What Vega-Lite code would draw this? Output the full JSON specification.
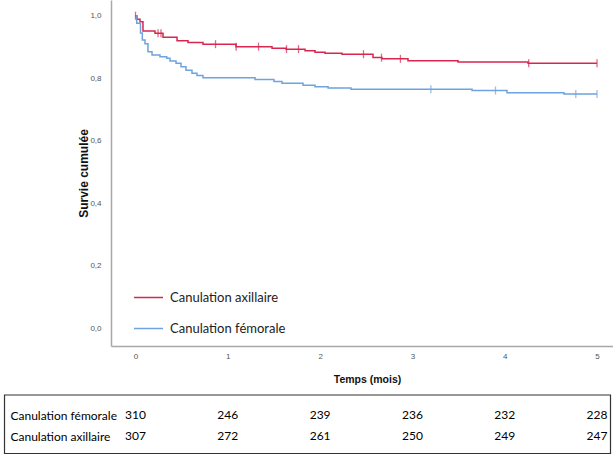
{
  "$schema": "https://vega.github.io/schema/vega-lite/v6.json",
  "autosize": "none",
  "padding": {"left": 111, "top": 0, "right": 0, "bottom": 110},
  "width": 502,
  "height": 346,
  "background": "white",
  "config": {"view": {"stroke": null}},
  "datasets": {
    "curve": [
      {"g": "Canulation axillaire", "t": 0, "s": 1.0},
      {"g": "Canulation axillaire", "t": 0.016, "s": 0.989},
      {"g": "Canulation axillaire", "t": 0.049, "s": 0.981},
      {"g": "Canulation axillaire", "t": 0.081, "s": 0.951},
      {"g": "Canulation axillaire", "t": 0.211, "s": 0.944},
      {"g": "Canulation axillaire", "t": 0.298, "s": 0.931},
      {"g": "Canulation axillaire", "t": 0.45, "s": 0.92},
      {"g": "Canulation axillaire", "t": 0.569, "s": 0.914},
      {"g": "Canulation axillaire", "t": 0.731, "s": 0.909},
      {"g": "Canulation axillaire", "t": 1.089, "s": 0.901},
      {"g": "Canulation axillaire", "t": 1.479, "s": 0.896},
      {"g": "Canulation axillaire", "t": 1.631, "s": 0.893},
      {"g": "Canulation axillaire", "t": 1.837, "s": 0.888},
      {"g": "Canulation axillaire", "t": 1.945, "s": 0.883},
      {"g": "Canulation axillaire", "t": 2.053, "s": 0.88},
      {"g": "Canulation axillaire", "t": 2.237, "s": 0.877},
      {"g": "Canulation axillaire", "t": 2.573, "s": 0.866},
      {"g": "Canulation axillaire", "t": 2.67, "s": 0.862},
      {"g": "Canulation axillaire", "t": 2.952, "s": 0.856},
      {"g": "Canulation axillaire", "t": 3.494, "s": 0.852},
      {"g": "Canulation axillaire", "t": 4.253, "s": 0.848},
      {"g": "Canulation axillaire", "t": 5.0, "s": 0.848},
      {"g": "Canulation fémorale", "t": 0, "s": 1.0},
      {"g": "Canulation fémorale", "t": 0.013, "s": 0.976},
      {"g": "Canulation fémorale", "t": 0.054, "s": 0.945},
      {"g": "Canulation fémorale", "t": 0.074, "s": 0.922},
      {"g": "Canulation fémorale", "t": 0.103, "s": 0.91},
      {"g": "Canulation fémorale", "t": 0.135, "s": 0.885},
      {"g": "Canulation fémorale", "t": 0.179, "s": 0.874},
      {"g": "Canulation fémorale", "t": 0.265, "s": 0.869},
      {"g": "Canulation fémorale", "t": 0.338, "s": 0.864},
      {"g": "Canulation fémorale", "t": 0.374, "s": 0.855},
      {"g": "Canulation fémorale", "t": 0.439, "s": 0.848},
      {"g": "Canulation fémorale", "t": 0.493, "s": 0.837},
      {"g": "Canulation fémorale", "t": 0.547, "s": 0.826},
      {"g": "Canulation fémorale", "t": 0.612, "s": 0.816},
      {"g": "Canulation fémorale", "t": 0.666, "s": 0.809},
      {"g": "Canulation fémorale", "t": 0.731, "s": 0.802},
      {"g": "Canulation fémorale", "t": 1.295, "s": 0.796},
      {"g": "Canulation fémorale", "t": 1.5, "s": 0.79},
      {"g": "Canulation fémorale", "t": 1.587, "s": 0.784},
      {"g": "Canulation fémorale", "t": 1.815, "s": 0.778},
      {"g": "Canulation fémorale", "t": 1.945, "s": 0.773},
      {"g": "Canulation fémorale", "t": 2.086, "s": 0.769},
      {"g": "Canulation fémorale", "t": 2.335, "s": 0.765},
      {"g": "Canulation fémorale", "t": 3.646, "s": 0.761},
      {"g": "Canulation fémorale", "t": 4.025, "s": 0.754},
      {"g": "Canulation fémorale", "t": 4.642, "s": 0.75},
      {"g": "Canulation fémorale", "t": 5.0, "s": 0.75}
    ],
    "censor": [
      {"g": "Canulation axillaire", "t": 0.0, "s": 1.0},
      {"g": "Canulation axillaire", "t": 0.244, "s": 0.944},
      {"g": "Canulation axillaire", "t": 0.276, "s": 0.944},
      {"g": "Canulation axillaire", "t": 0.867, "s": 0.909},
      {"g": "Canulation axillaire", "t": 1.09, "s": 0.901},
      {"g": "Canulation axillaire", "t": 1.333, "s": 0.901},
      {"g": "Canulation axillaire", "t": 1.636, "s": 0.893},
      {"g": "Canulation axillaire", "t": 1.766, "s": 0.893},
      {"g": "Canulation axillaire", "t": 2.47, "s": 0.877},
      {"g": "Canulation axillaire", "t": 2.665, "s": 0.866},
      {"g": "Canulation axillaire", "t": 2.87, "s": 0.862},
      {"g": "Canulation axillaire", "t": 4.26, "s": 0.848},
      {"g": "Canulation axillaire", "t": 5.0, "s": 0.848},
      {"g": "Canulation fémorale", "t": 3.2, "s": 0.765},
      {"g": "Canulation fémorale", "t": 3.9, "s": 0.761},
      {"g": "Canulation fémorale", "t": 4.77, "s": 0.75},
      {"g": "Canulation fémorale", "t": 5.0, "s": 0.75}
    ],
    "table": [
      {"g": "Canulation fémorale", "t": 0, "n": 310},
      {"g": "Canulation fémorale", "t": 1, "n": 246},
      {"g": "Canulation fémorale", "t": 2, "n": 239},
      {"g": "Canulation fémorale", "t": 3, "n": 236},
      {"g": "Canulation fémorale", "t": 4, "n": 232},
      {"g": "Canulation fémorale", "t": 5, "n": 228},
      {"g": "Canulation axillaire", "t": 0, "n": 307},
      {"g": "Canulation axillaire", "t": 1, "n": 272},
      {"g": "Canulation axillaire", "t": 2, "n": 261},
      {"g": "Canulation axillaire", "t": 3, "n": 250},
      {"g": "Canulation axillaire", "t": 4, "n": 249},
      {"g": "Canulation axillaire", "t": 5, "n": 247}
    ]
  },
  "layer": [
    {
      "encoding": {
        "x": {
          "field": "t", "type": "quantitative", "title": "Temps (mois)",
          "scale": {"domain": [-0.2654, 5.173], "nice": false, "zero": false},
          "axis": {
            "values": [0, 1, 2, 3, 4, 5], "format": "d",
            "domainColor": "#a8a8a8", "domainWidth": 1.5, "ticks": false, "grid": false,
            "labelFont": "Liberation Sans", "labelFontSize": 8, "labelColor": "#555555", "labelPadding": 6,
            "titleFont": "Liberation Sans", "titleFontSize": 10.5, "titleFontWeight": "bold", "titleColor": "#111111",
            "titlePadding": 14, "titleX": 256
          }
        },
        "y": {
          "field": "s", "type": "quantitative", "title": "Survie cumulée",
          "scale": {"domain": [-0.0559, 1.0502], "nice": false, "zero": false},
          "axis": {
            "values": [0, 0.2, 0.4, 0.6, 0.8, 1],
            "labelExpr": "replace(format(datum.value, '.1f'), '.', ',')",
            "domainColor": "#a8a8a8", "domainWidth": 1.5, "ticks": false, "grid": false,
            "labelFont": "Liberation Sans", "labelFontSize": 8, "labelColor": "#555555", "labelPadding": 10,
            "titleFont": "Liberation Sans", "titleFontSize": 12, "titleFontWeight": "bold", "titleColor": "#111111",
            "titlePadding": -1
          }
        }
      },
      "layer": [
        {
          "data": {"name": "curve"},
          "mark": {"type": "line", "interpolate": "step-after", "strokeWidth": 1.5},
          "encoding": {
            "color": {
              "field": "g", "type": "nominal",
              "scale": {"domain": ["Canulation axillaire", "Canulation fémorale"], "range": ["#d7264f", "#6fa3de"]},
              "legend": {
                "orient": "none", "legendX": 22, "legendY": 282, "title": null,
                "symbolType": "stroke", "symbolSize": 841, "symbolStrokeWidth": 1.5,
                "labelFont": "Lato", "labelFontSize": 13, "labelColor": "#222222",
                "labelOffset": 6, "rowPadding": 8, "padding": 0
              }
            }
          }
        },
        {
          "data": {"name": "censor"},
          "mark": {"type": "tick", "orient": "vertical", "size": 8, "thickness": 1.3},
          "encoding": {
            "color": {
              "field": "g", "type": "nominal",
              "scale": {"domain": ["Canulation axillaire", "Canulation fémorale"], "range": ["#d7264f", "#6fa3de"]},
              "legend": null
            }
          }
        }
      ]
    },
    {
      "data": {"name": "table"},
      "mark": {"type": "text", "font": "Lato", "fontSize": 12, "color": "#000000", "align": "center", "baseline": "middle"},
      "encoding": {
        "x": {
          "field": "t", "type": "quantitative", "title": "Temps (mois)",
          "scale": {"domain": [-0.2654, 5.173], "nice": false, "zero": false},
          "axis": {
            "values": [0, 1, 2, 3, 4, 5], "format": "d",
            "domainColor": "#a8a8a8", "domainWidth": 1.5, "ticks": false, "grid": false,
            "labelFont": "Liberation Sans", "labelFontSize": 8, "labelColor": "#555555", "labelPadding": 6,
            "titleFont": "Liberation Sans", "titleFontSize": 10.5, "titleFontWeight": "bold", "titleColor": "#111111",
            "titlePadding": 14, "titleX": 256
          }
        },
        "y": {
          "field": "g", "type": "nominal",
          "scale": {"type": "point", "domain": ["Canulation fémorale", "Canulation axillaire"], "range": [415, 436], "padding": 0},
          "axis": {
            "orient": "left", "offset": 98, "domain": false, "ticks": false, "grid": false,
            "labelPadding": 3, "labelAlign": "left", "labelBaseline": "middle",
            "labelFont": "Lato", "labelFontSize": 12, "labelColor": "#000000", "title": null
          }
        },
        "text": {"field": "n", "type": "quantitative"}
      }
    },
    {
      "data": {"values": [{"k": "box"}]},
      "mark": {"type": "rect", "fill": "transparent", "stroke": "#333333", "strokeWidth": 1.2},
      "encoding": {
        "x": {
          "datum": -1.419, "type": "quantitative", "title": "Temps (mois)",
          "scale": {"domain": [-0.2654, 5.173], "nice": false, "zero": false},
          "axis": {
            "values": [0, 1, 2, 3, 4, 5], "format": "d",
            "domainColor": "#a8a8a8", "domainWidth": 1.5, "ticks": false, "grid": false,
            "labelFont": "Liberation Sans", "labelFontSize": 8, "labelColor": "#555555", "labelPadding": 6,
            "titleFont": "Liberation Sans", "titleFontSize": 10.5, "titleFontWeight": "bold", "titleColor": "#111111",
            "titlePadding": 14, "titleX": 256
          }
        },
        "x2": {"datum": 5.146},
        "y": {"datum": 0, "type": "quantitative", "scale": {"domain": [0, 1], "range": [453.5, 395], "nice": false, "zero": false}, "axis": null},
        "y2": {"datum": 1}
      }
    }
  ],
  "resolve": {"scale": {"y": "independent"}}
}
